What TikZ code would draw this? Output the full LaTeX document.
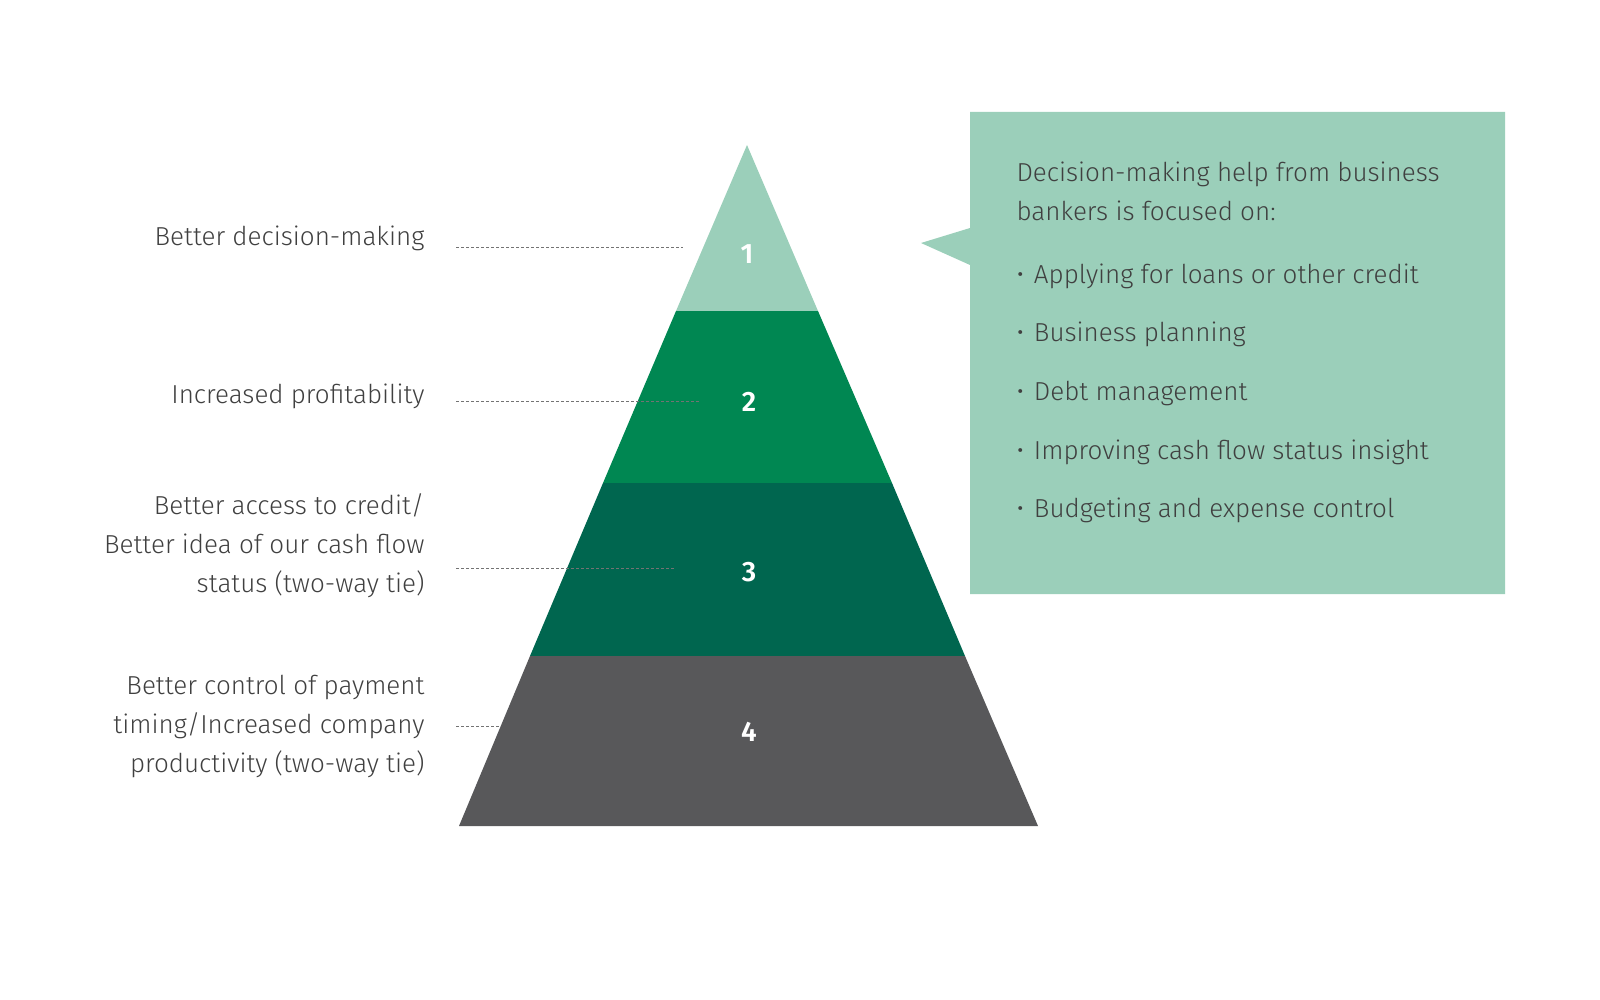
\documentclass[tikz,border=0pt]{standalone}
\usepackage{fontspec}
\setmainfont{Fira Sans}[UprightFont={* Light},BoldFont={* SemiBold}]
\begin{document}
\begin{tikzpicture}[x=1pt,y=-1pt,
 lbl/.style={anchor=east,align=right,font=\fontsize{26}{39}\selectfont,text=black!75},
 num/.style={font=\fontsize{28}{30}\selectfont\bfseries,text=white},
 dl/.style={black!55,line width=0.8pt,dash pattern=on 3pt off 2pt},
 item/.style={anchor=west,font=\fontsize{26}{39}\selectfont,text=black!75}]
\definecolor{c1}{HTML}{9BCFBA}\definecolor{c2}{HTML}{008752}
\definecolor{c3}{HTML}{00664F}\definecolor{c4}{HTML}{58585A}
\useasboundingbox (0,0) rectangle (1600,1000);
\fill[c1] (747,145) -- (818,311) -- (676,311) -- cycle;
\fill[c2] (676,311) -- (818,311) -- (892,483) -- (603,483) -- cycle;
\fill[c3] (603,483) -- (892,483) -- (965,656) -- (530,656) -- cycle;
\fill[c4] (530,656) -- (965,656) -- (1038,826) -- (459,826) -- cycle;
\node[num] (n1) at (747,254) {1};
\node[num] (n2) at (749,402) {2};
\node[num] (n3) at (749,572) {3};
\node[num] (n4) at (749,732) {4};
\node[lbl] (l1) at (428,238) {Better decision-making};
\node[lbl] (l2) at (428,396) {Increased profitability};
\node[lbl] (l3) at (428,546) {Better access to credit/\\Better idea of our cash flow\\status (two-way tie)};
\node[lbl] (l4) at (428,726) {Better control of payment\\timing/Increased company\\productivity (two-way tie)};
\coordinate (e1) at (683,247);\coordinate (e2) at (700,401);
\coordinate (e3) at (675,568);\coordinate (e4) at (500,726);
\draw[dl] (456,247) -- (e1);
\draw[dl] (456,401) -- (e2);
\draw[dl] (456,568) -- (e3);
\draw[dl] (456,726) -- (e4);
\fill[c1] (970,112) -- (1505,112) -- (1505,594) -- (970,594) -- (970,265) -- (921,243) -- (970,228) -- cycle;
\node[item,anchor=north west,align=left] (h) at (1013,158) {Decision-making help from business\\bankers is focused on:};
\foreach \t [count=\i] in {Applying for loans or other credit,Business planning,Debt management,Improving cash flow status insight,Budgeting and expense control}
  \node[item] (b\i) at (1013,{276+58.7*(\i-1)}) {•\hspace{10pt}\t};
\end{tikzpicture}
\end{document}
